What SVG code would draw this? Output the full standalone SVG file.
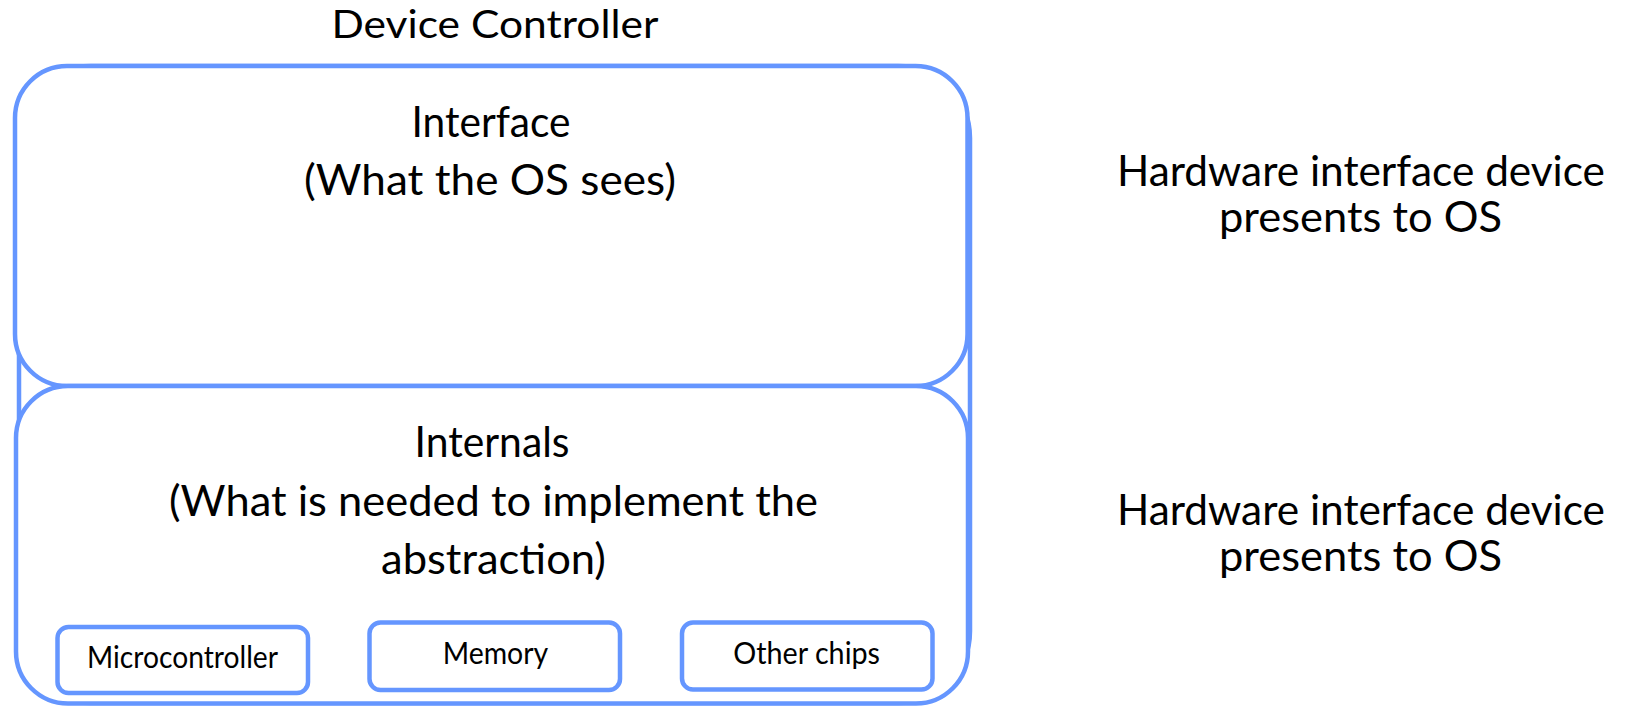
<svg xmlns="http://www.w3.org/2000/svg" width="1629" height="706" viewBox="0 0 1629 706">
  <style>
    .frame { fill: none; stroke: #6596ff; stroke-width: 4.5; }
    .panel { fill: #ffffff; stroke: #6596ff; stroke-width: 4.5; }
    .chip { fill: #ffffff; stroke: #6596ff; stroke-width: 4.5; }
    text { font-family: Lato, "Liberation Sans", sans-serif; fill: #000000; text-anchor: middle; }
    .title { font-size: 38px; }
    .big { font-size: 43px; }
    .side { font-size: 42px; }
    .small { font-size: 30px; }
  </style>

  <rect width="1629" height="706" fill="#ffffff"/>

  <!-- Device controller enclosure -->
  <g id="device-controller">
    <rect class="frame" x="19" y="66" width="951" height="637" rx="72" ry="72"/>
    <text class="title" x="495" y="37.5" textLength="327" lengthAdjust="spacingAndGlyphs">Device Controller</text>
  </g>

  <!-- Upper panel: the interface -->
  <g id="interface">
    <rect class="panel" x="15" y="66" width="952.5" height="320" rx="52" ry="52"/>
    <text class="big" x="491" y="137" textLength="159" lengthAdjust="spacingAndGlyphs">Interface</text>
    <text class="big" x="490" y="195" textLength="372" lengthAdjust="spacingAndGlyphs">(What the OS sees)</text>
  </g>

  <!-- Lower panel: the internals -->
  <g id="internals">
    <rect class="panel" x="16" y="386" width="952" height="317.5" rx="52" ry="52"/>
    <text class="big" x="492" y="457" textLength="155" lengthAdjust="spacingAndGlyphs">Internals</text>
    <text class="big" x="493.5" y="516" textLength="649" lengthAdjust="spacingAndGlyphs">(What is needed to implement the</text>
    <text class="big" x="493.5" y="574" textLength="225" lengthAdjust="spacingAndGlyphs">abstraction)</text>
  </g>

  <g id="microcontroller">
    <rect class="chip" x="57.5" y="627" width="250.5" height="66" rx="11" ry="11"/>
    <text class="small" x="182.5" y="668" textLength="191" lengthAdjust="spacingAndGlyphs">Microcontroller</text>
  </g>

  <g id="memory">
    <rect class="chip" x="369.5" y="622.5" width="250.5" height="67.5" rx="11" ry="11"/>
    <text class="small" x="495.5" y="664.3" textLength="105.6" lengthAdjust="spacingAndGlyphs">Memory</text>
  </g>

  <g id="other-chips">
    <rect class="chip" x="682" y="622.5" width="250.5" height="67" rx="11" ry="11"/>
    <text class="small" x="806.7" y="664" textLength="146.7" lengthAdjust="spacingAndGlyphs">Other chips</text>
  </g>

  <!-- Side notes -->
  <g id="note-interface">
    <text class="side" x="1361" y="186" textLength="488" lengthAdjust="spacingAndGlyphs">Hardware interface device</text>
    <text class="side" x="1360.5" y="232" textLength="283" lengthAdjust="spacingAndGlyphs">presents to OS</text>
  </g>

  <g id="note-internals">
    <text class="side" x="1361" y="525" textLength="488" lengthAdjust="spacingAndGlyphs">Hardware interface device</text>
    <text class="side" x="1360.5" y="571" textLength="283" lengthAdjust="spacingAndGlyphs">presents to OS</text>
  </g>

  <g id="connectors"/>
</svg>
